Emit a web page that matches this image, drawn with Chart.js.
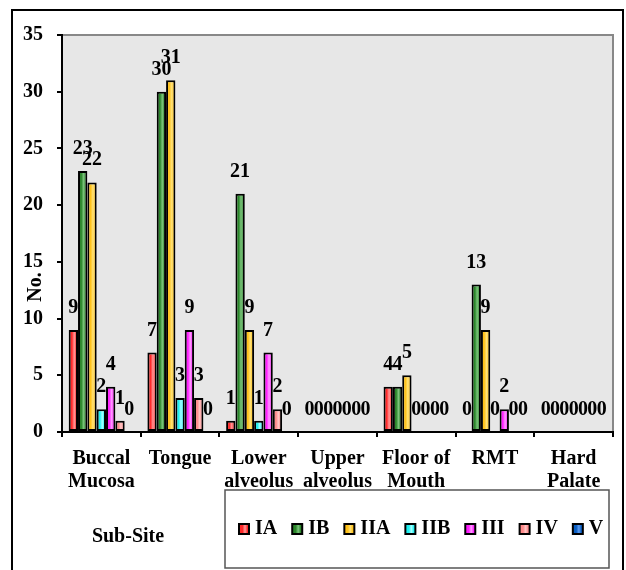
<!DOCTYPE html>
<html>
<head>
<meta charset="utf-8">
<script src="https://cdn.jsdelivr.net/npm/chart.js@4"></script>
<style>
  html, body { margin: 0; padding: 0; background: #fff; }
  canvas { display: block; }
</style>
</head>
<body>
<canvas id="myChart" width="626" height="570"></canvas>
<script>
// datos
const categorias = [["Buccal", "Mucosa"], "Tongue", ["Lower", "alveolus"], ["Upper", "alveolus"], ["Floor of", "Mouth"], "RMT", ["Hard", "Palate"]];
const estadios = ["IA", "IB", "IIA", "IIB", "III", "IV", "V"];
const valoresIA = [9, 7, 1, 0, 4, 0, 0];
const valoresIB = [23, 30, 21, 0, 4, 13, 0];
const valoresIIA = [22, 31, 9, 0, 5, 9, 0];
const valoresIIB = [2, 3, 1, 0, 0, 0, 0];
const valoresIII = [4, 9, 7, 0, 0, 2, 0];
const valoresIV = [1, 3, 2, 0, 0, 0, 0];
const valoresV = [0, 0, 0, 0, 0, 0, 0];
const yTicks = [0, 5, 10, 15, 20, 25, 30, 35];

const colores = ["#ff2a2a", "#2a862a", "#ffc21a", "#1ff0f0", "#ff1fff", "#ff8a8a", "#0a5ec2"];
const claros = ["#ff9a9a", "#7cc47c", "#ffe27a", "#a8ffff", "#ff9cff", "#ffc6c6", "#5f9cf0"];
const series = [valoresIA, valoresIB, valoresIIA, valoresIIB, valoresIII, valoresIV, valoresV];

const fuente = "'Liberation Serif', 'Times New Roman', serif";
const PCT = 0.83;

function degradado(ctx, left, w, i) {
  const g = ctx.createLinearGradient(left, 0, left + w, 0);
  g.addColorStop(0, colores[i]);
  g.addColorStop(0.35, colores[i]);
  g.addColorStop(0.6, claros[i]);
  g.addColorStop(0.85, colores[i]);
  g.addColorStop(1, colores[i]);
  return g;
}

// degradado horizontal de cada barra
function relleno(c) {
  const i = c.datasetIndex;
  const xs = c.chart.scales.x;
  if (c.type !== "data" || !xs || !isFinite(xs.left)) return colores[i];
  const catW = (xs.right - xs.left) / categorias.length;
  const bw = catW * PCT / estadios.length;
  const left = xs.getPixelForValue(c.dataIndex) - catW * PCT / 2 + i * bw;
  if (!isFinite(left)) return colores[i];
  return degradado(c.chart.ctx, left, bw, i);
}

const datasets = estadios.map((nombre, i) => ({
  label: nombre,
  data: series[i],
  backgroundColor: relleno,
  borderColor: "#000",
  borderWidth: 2,
  borderSkipped: false,
  categoryPercentage: PCT,
  barPercentage: 1
}));

// fondo, marco y textos extra
const extras = {
  id: "extras",
  beforeDraw(chart) {
    const ctx = chart.ctx;
    const a = chart.chartArea;
    ctx.save();
    ctx.fillStyle = "#e7e7e7";
    ctx.fillRect(a.left, a.top, a.right - a.left, a.bottom - a.top);
    ctx.strokeStyle = "#888";
    ctx.lineWidth = 2;
    ctx.beginPath();
    ctx.moveTo(a.left, a.top);
    ctx.lineTo(a.right, a.top);
    ctx.lineTo(a.right, a.bottom);
    ctx.stroke();
    ctx.restore();
  },
  afterDatasetsDraw(chart) {
    const ctx = chart.ctx;
    ctx.save();
    ctx.font = "bold 20px " + fuente;
    ctx.fillStyle = "#000";
    ctx.textAlign = "center";
    ctx.textBaseline = "alphabetic";
    chart.data.datasets.forEach((ds, i) => {
      const meta = chart.getDatasetMeta(i);
      meta.data.forEach((bar, j) => {
        ctx.fillText(String(ds.data[j]), bar.x, bar.y - 17);
      });
    });
    ctx.restore();
  },
  afterDraw(chart) {
    const ctx = chart.ctx;
    ctx.save();
    // marco exterior
    ctx.strokeStyle = "#000";
    ctx.lineWidth = 2;
    ctx.beginPath();
    ctx.moveTo(12, 575);
    ctx.lineTo(12, 10);
    ctx.lineTo(623, 10);
    ctx.lineTo(623, 575);
    ctx.stroke();

    // titulo eje y
    ctx.font = "bold 20px " + fuente;
    ctx.fillStyle = "#000";
    ctx.textAlign = "center";
    ctx.textBaseline = "middle";
    ctx.save();
    ctx.translate(36, 287);
    ctx.rotate(-Math.PI / 2);
    ctx.fillText("No.", 0, 0);
    ctx.restore();

    // titulo eje x
    ctx.fillText("Sub-Site", 128, 537);

    // leyenda
    ctx.strokeStyle = "#555";
    ctx.lineWidth = 1.5;
    ctx.strokeRect(225, 490, 384, 78);
    let x = 239;
    const yc = 529;
    ctx.textAlign = "left";
    chart.data.datasets.forEach((ds, i) => {
      ctx.fillStyle = degradado(ctx, x, 10, i);
      ctx.fillRect(x, yc - 5, 10, 10);
      ctx.strokeStyle = "#000";
      ctx.lineWidth = 2;
      ctx.strokeRect(x, yc - 5, 10, 10);
      ctx.fillStyle = "#000";
      ctx.fillText(ds.label, x + 16, yc);
      x += 16 + ctx.measureText(ds.label).width + 15;
    });
    ctx.restore();
  }
};

const config = {
  type: "bar",
  data: { labels: categorias, datasets: datasets },
  options: {
    responsive: false,
    devicePixelRatio: 1,
    animation: false,
    layout: { padding: { left: 0, right: 13, top: 35, bottom: 0 } },
    plugins: {
      legend: { display: false },
      tooltip: { enabled: false }
    },
    scales: {
      x: {
        offset: true,
        grid: { offset: true, drawOnChartArea: false, drawTicks: true, tickLength: 5, color: "#000", lineWidth: 2 },
        border: { color: "#000", width: 2 },
        ticks: {
          color: "#000",
          padding: 10,
          maxRotation: 0,
          autoSkip: false,
          font: { family: fuente, size: 20, weight: "bold", lineHeight: 1.15 }
        },
        afterFit(scale) { scale.height = 138; }
      },
      y: {
        min: 0,
        max: 35,
        afterBuildTicks(scale) { scale.ticks = yTicks.map(v => ({ value: v })); },
        grid: { drawOnChartArea: false, drawTicks: true, tickLength: 5, color: "#000", lineWidth: 2 },
        border: { color: "#000", width: 2 },
        ticks: {
          color: "#000",
          padding: 14,
          font: { family: fuente, size: 20, weight: "bold" }
        },
        afterFit(scale) { scale.width = 62; }
      }
    }
  },
  plugins: [extras]
};

new Chart(document.getElementById("myChart"), config);
</script>
</body>
</html>
